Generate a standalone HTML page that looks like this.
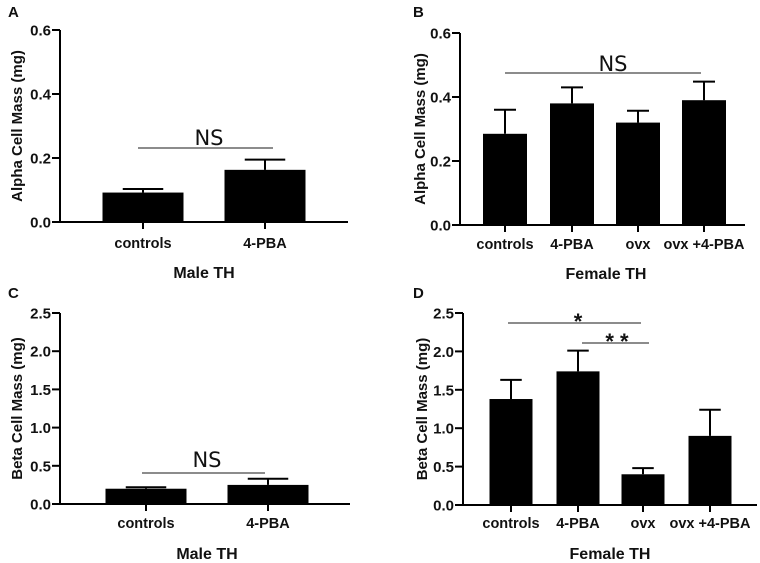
<!DOCTYPE html>
<html><head><meta charset="utf-8"><style>
body{margin:0;background:#fff;}
svg{display:block;font-family:"Liberation Sans",Arial,sans-serif;}
.t{font-weight:bold;fill:#111;}
.ns{fill:#111;font-family:"DejaVu Sans","Liberation Sans",sans-serif;}
</style></head><body>
<svg id="fig" width="760" height="563" viewBox="0 0 760 563"></svg>
<script>
const catsMale = ["controls","4-PBA"];
const catsFemale = ["controls","4-PBA","ovx","ovx +4-PBA"];
const alphaMale = [0.092,0.163];
const alphaMaleErr = [0.011,0.032];
const alphaFemale = [0.285,0.38,0.32,0.39];
const alphaFemaleErr = [0.075,0.05,0.037,0.058];
const betaMale = [0.2,0.25];
const betaMaleErr = [0.02,0.08];
const betaFemale = [1.38,1.74,0.4,0.9];
const betaFemaleErr = [0.25,0.27,0.08,0.34];
const alphaTicks = ["0.0","0.2","0.4","0.6"];
const betaTicks = ["0.0","0.5","1.0","1.5","2.0","2.5"];

const NS="http://www.w3.org/2000/svg";
const svg=document.getElementById('fig');
function el(tag,attrs,parent,text){const e=document.createElementNS(NS,tag);for(const k in attrs)e.setAttribute(k,attrs[k]);if(text!==undefined)e.textContent=text;(parent||svg).appendChild(e);return e;}

const panels=[
 {id:'a',letter:'A',lx:8,ly:17,x0:60,x1:348,y0:222,y1:30,max:0.6,ticks:alphaTicks,cats:catsMale,vals:alphaMale,errs:alphaMaleErr,centers:[143,265],bw:81,ytitle:'Alpha Cell Mass (mg)',ytx:17,xtitle:'Male TH',xtitleX:204,tickY:248,titleY:278,
  sig:[{x1:138,x2:273,y:148,label:'NS',tx:209,ty:145,cls:'ns',fs:21}]},
 {id:'b',letter:'B',lx:413,ly:17,x0:460,x1:745,y0:225,y1:33,max:0.6,ticks:alphaTicks,cats:catsFemale,vals:alphaFemale,errs:alphaFemaleErr,centers:[505,572,638,704],bw:44,ytitle:'Alpha Cell Mass (mg)',ytx:420,xtitle:'Female  TH',xtitleX:606,tickY:249,titleY:279,
  sig:[{x1:505,x2:701,y:73,label:'NS',tx:613,ty:71,cls:'ns',fs:21}]},
 {id:'c',letter:'C',lx:8,ly:298,x0:60,x1:350,y0:504,y1:313,max:2.5,ticks:betaTicks,cats:catsMale,vals:betaMale,errs:betaMaleErr,centers:[146,268],bw:81,ytitle:'Beta Cell Mass (mg)',ytx:17,xtitle:'Male TH',xtitleX:207,tickY:528,titleY:559,
  sig:[{x1:142,x2:265,y:473,label:'NS',tx:207,ty:467,cls:'ns',fs:21}]},
 {id:'d',letter:'D',lx:413,ly:298,x0:463,x1:757,y0:505,y1:313,max:2.5,ticks:betaTicks,cats:catsFemale,vals:betaFemale,errs:betaFemaleErr,centers:[511,578,643,710],bw:43,ytitle:'Beta Cell Mass (mg)',ytx:422,xtitle:'Female  TH',xtitleX:610,tickY:528,titleY:559,
  sig:[{x1:508,x2:641,y:323,label:'*',tx:578,ty:329,cls:'t',fs:22},{x1:582,x2:649,y:343,label:'* *',tx:617,ty:349,cls:'t',fs:22}]}
];

panels.forEach(p=>{
  const g=el('g',{});
  
  
  const y=v=>p.y0-(v/p.max)*(p.y0-p.y1);
  const L=el('text',{x:p.lx,y:p.ly,class:'t',style:'font-size:15px'},g,p.letter);
  
  
  p.vals.forEach((v,i)=>{
    const c=p.centers[i];
    const r=el('rect',{x:c-p.bw/2,y:y(v),width:p.bw,height:p.y0-y(v),fill:'#000'},g);
    
    
    const ey=y(v+p.errs[i]);
    const e=el('path',{d:`M${c} ${y(v)}V${ey}M${c-p.bw/4} ${ey}H${c+p.bw/4}`,stroke:'#000','stroke-width':2,fill:'none'},g);
    
    
    el('line',{x1:c,x2:c,y1:p.y0,y2:p.y0+7,stroke:'#000','stroke-width':2},g);
    const tl=el('text',{x:c,y:p.tickY,class:'t','text-anchor':'middle',style:'font-size:14.5px'},g,p.cats[i]);
    
    
  });
  const ax=el('path',{d:`M${p.x0} ${p.y1}V${p.y0}H${p.x1}`,stroke:'#000','stroke-width':2,fill:'none'},g);
  
  
  p.ticks.forEach(t=>{
    const ty=y(parseFloat(t));
    el('line',{x1:p.x0-8,x2:p.x0,y1:ty,y2:ty,stroke:'#000','stroke-width':2},g);
    const tl=el('text',{x:p.x0-9,y:ty+5.5,class:'t','text-anchor':'end',style:'font-size:15px'},g,t);
    
    
  });
  const cy=(p.y0+p.y1)/2;
  const yt=el('text',{x:p.ytx,y:cy,class:'t','text-anchor':'middle',transform:`rotate(-90 ${p.ytx} ${cy})`,dy:'5',style:'font-size:15px'},g,p.ytitle);
  
  
  const xt=el('text',{x:p.xtitleX,y:p.titleY,class:'t','text-anchor':'middle',style:'font-size:16px'},g,p.xtitle);
  
  
  p.sig.forEach(s=>{
    const sl=el('line',{x1:s.x1,x2:s.x2,y1:s.y,y2:s.y,stroke:'#666','stroke-width':1.5},g);
    
    
    const st=el('text',{x:s.tx,y:s.ty,class:s.cls,'text-anchor':'middle',style:'font-size:'+s.fs+'px'},g,s.label);
    
    
  });
});
</script>
</body></html>
